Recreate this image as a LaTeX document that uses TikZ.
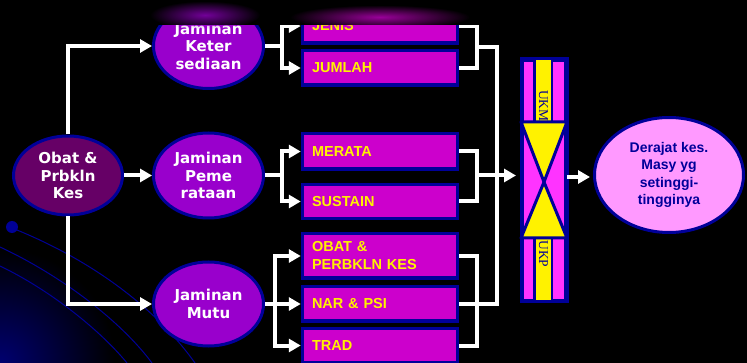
\documentclass[tikz,border=0pt]{standalone}
\usepackage{fontspec}
\setmainfont{Liberation Sans}
\newfontfamily\verd{DejaVu Sans}
\newfontfamily\tnr{Liberation Serif}
\usetikzlibrary{arrows.meta,shapes.geometric,fadings,calc}
\definecolor{ovalblue}{HTML}{000099}
\definecolor{jamfill}{HTML}{9900CC}
\definecolor{obatfill}{HTML}{660066}
\definecolor{boxfill}{HTML}{CC00CC}
\definecolor{barpink}{HTML}{FF33FF}
\definecolor{derfill}{HTML}{FF99FF}
\definecolor{arcblue}{HTML}{000096}
\definecolor{glowblue}{HTML}{000070}
\tikzfading[name=glowfade, inner color=transparent!25, outer color=transparent!100]
\tikzset{
  oval/.style={ellipse, draw=ovalblue, line width=3pt, inner sep=0pt, text=white,
    font=\verd\bfseries\fontsize{15}{17.5}\selectfont, align=center},
  boxn/.style={rectangle, draw=ovalblue, line width=3.5pt, fill=boxfill, text=yellow,
    font=\bfseries\fontsize{14.5}{18}\selectfont, text width=136pt, align=left,
    inner xsep=9.5pt, inner ysep=0pt},
  conn/.style={draw=white, line width=4pt},
  arr/.style={conn, -{Triangle[length=12pt,width=13pt]}},
  vtext/.style={text=ovalblue, font=\tnr\fontsize{13.5}{14}\selectfont, rotate=-90, inner sep=0pt},
}
\begin{document}
\begin{tikzpicture}[x=1pt,y=-1pt]
\useasboundingbox (0,0) rectangle (747,363);
\fill[black] (0,0) rectangle (747,363);
% background decoration
\begin{scope}
\clip (0,0) rectangle (747,363);
\shade[inner color=glowblue, outer color=black] (0,363) circle (115);
\draw[arcblue, line width=1pt] (12,228) .. controls (80,255) and (150,300) .. (195,363);
\draw[arcblue, line width=1pt] (0,247) .. controls (60,275) and (120,320) .. (152,363);
\draw[arcblue, line width=1pt] (0,266) .. controls (50,290) and (100,330) .. (127,363);
\fill[arcblue] (12,227) circle (6);
\end{scope}

% ovals
\node[oval, fill=obatfill, minimum width=109pt, minimum height=79pt] (obat) at (68,175.5) {Obat \&\\Prbkln\\Kes};
\node[oval, fill=jamfill, minimum width=110pt, minimum height=85pt] (keter) at (208.5,46) {Jaminan\\Keter\\sediaan};
\node[oval, fill=jamfill, minimum width=110pt, minimum height=85pt] (peme) at (208.5,175.5) {Jaminan\\Peme\\rataan};
\node[oval, fill=jamfill, minimum width=110pt, minimum height=84pt] (mutu) at (208.5,304) {Jaminan\\Mutu};

% boxes
\node[boxn, minimum height=34.5pt] (jenis) at (380,26) {JENIS};
\node[boxn, minimum height=34.5pt] (jumlah) at (380,68) {JUMLAH};
\node[boxn, minimum height=35.5pt] (merata) at (380,151.5) {MERATA};
\node[boxn, minimum height=34pt] (sustain) at (380,201.5) {SUSTAIN};
\node[boxn, minimum height=44.5pt] (obatb) at (380,256) {OBAT \&\\PERBKLN KES};
\node[boxn, minimum height=34.5pt] (nar) at (380,304) {NAR \& PSI};
\node[boxn, minimum height=33.5pt] (trad) at (380,345.5) {TRAD};

% centre bar
\node[rectangle, draw=ovalblue, fill=barpink, line width=3pt, minimum width=43pt, minimum height=240pt, inner sep=0pt] (uk) at (544,180.5) {};
\draw[ovalblue, fill=yellow, line width=2.5pt] (534.5,59) rectangle (552,122);
\draw[ovalblue, fill=yellow, line width=2.5pt] (534.5,238) rectangle (552,302);
\node[vtext] (ukm) at (543.5,106) {UKM};
\node[vtext] (ukp) at (543.5,254) {UKP};
\draw[ovalblue, fill=yellow, line width=3pt, line join=round] (521,122) -- (567,122) -- (544,182) -- cycle;
\draw[ovalblue, fill=yellow, line width=3pt, line join=round] (521,238) -- (567,238) -- (544,182) -- cycle;
\draw[ovalblue, line width=3pt] (uk.north west) rectangle (uk.south east);

% result oval
\node[oval, fill=derfill, text=ovalblue, font=\bfseries\fontsize{14}{17.5}\selectfont, minimum width=149pt, minimum height=115pt] (derajat) at (669,175) {Derajat kes.\\Masy yg\\setinggi-\\tingginya};

% connectors from source
\draw[arr] (obat.north) |- (keter.west);
\draw[arr] (obat.east) -- (peme.west);
\draw[arr] (obat.south) |- (mutu.west);

% left branches
\coordinate (kj) at (282,46);
\coordinate (pk) at (282,175.5);
\coordinate (mk) at (275,304);
\draw[conn] (keter.east) -- (kj);
\draw[arr] (kj) |- (jenis.west);
\draw[arr] (kj) |- (jumlah.west);
\draw[conn] (peme.east) -- (pk);
\draw[arr] (pk) |- (merata.west);
\draw[arr] (pk) |- (sustain.west);
\draw[conn] (mutu.east) -- (mk);
\draw[arr] (mk) |- (obatb.west);
\draw[arr] (mk) -- (nar.west);
\draw[arr] (mk) |- (trad.west);

% right brackets
\coordinate (kb) at (477,47);
\coordinate (pb) at (477,175.5);
\coordinate (mb) at (477,300);
\coordinate (cn) at (497,304);
\draw[conn] (jenis.east) -| (kb) |- (jumlah.east);
\draw[conn] (merata.east) -| (pb) |- (sustain.east);
\draw[conn] (obatb.east) -| (mb) |- (trad.east);
\draw[conn] (kb) -| (cn) -- (nar.east);
\draw[arr, shorten >=5pt] (pb) -- (pb -| uk.west);

% to result
\coordinate (ua) at (567,177);
\draw[arr, line width=3.5pt, shorten >=3pt] (ua) -- (ua -| derajat.west);

% top band with glare
\fill[black] (0,0) rectangle (747,25.5);
\fill[jamfill, path fading=glowfade] (205,15) ellipse [x radius=55, y radius=14];
\fill[boxfill, path fading=glowfade] (380,17) ellipse [x radius=90, y radius=12];
\end{tikzpicture}
\end{document}
